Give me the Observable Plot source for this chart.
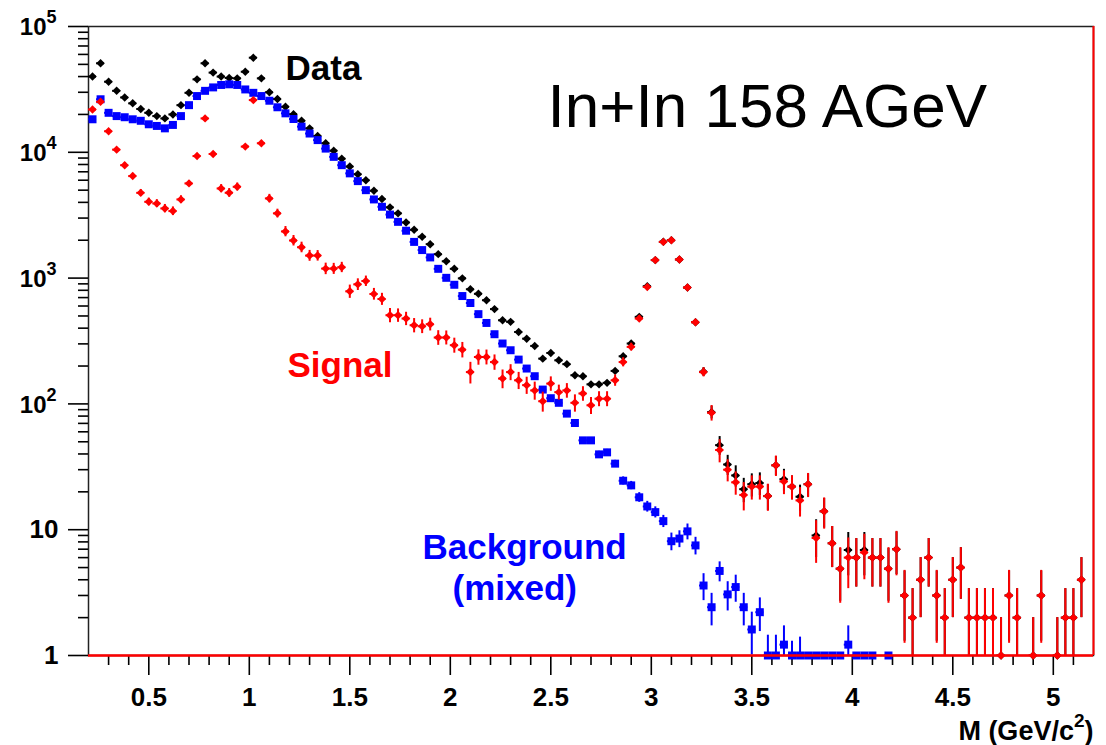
<!DOCTYPE html>
<html>
<head>
<meta charset="utf-8">
<script src="https://cdn.jsdelivr.net/npm/d3@7"></script>
<script src="https://cdn.jsdelivr.net/npm/@observablehq/plot@0.6"></script>
<style>
  body { margin: 0; background: #fff; }
  svg { display: block; }
  g[aria-label$="tick label"] text { font-weight: bold; }
</style>
</head>
<body>
<script>
// Bin centres (GeV/c^2)
const mass = [
  0.22, 0.26, 0.30, 0.34, 0.38, 0.42, 0.46, 0.50, 0.54, 0.58,
  0.62, 0.66, 0.70, 0.74, 0.78, 0.82, 0.86, 0.90, 0.94, 0.98,
  1.02, 1.06, 1.10, 1.14, 1.18, 1.22, 1.26, 1.30, 1.34, 1.38,
  1.42, 1.46, 1.50, 1.54, 1.58, 1.62, 1.66, 1.70, 1.74, 1.78,
  1.82, 1.86, 1.90, 1.94, 1.98, 2.02, 2.06, 2.10, 2.14, 2.18,
  2.22, 2.26, 2.30, 2.34, 2.38, 2.42, 2.46, 2.50, 2.54, 2.58,
  2.62, 2.66, 2.70, 2.74, 2.78, 2.82, 2.86, 2.90, 2.94, 2.98,
  3.02, 3.06, 3.10, 3.14, 3.18, 3.22, 3.26, 3.30, 3.34, 3.38,
  3.42, 3.46, 3.50, 3.54, 3.58, 3.62, 3.66, 3.70, 3.74, 3.78,
  3.82, 3.86, 3.90, 3.94, 3.98, 4.02, 4.06, 4.10, 4.14, 4.18,
  4.22, 4.26, 4.30, 4.34, 4.38, 4.42, 4.46, 4.50, 4.54, 4.58,
  4.62, 4.66, 4.70, 4.74, 4.78, 4.82, 4.86, 4.90, 4.94, 4.98,
  5.02, 5.06, 5.10, 5.14, 5.18
];

// Data (black)
const dataCounts = [
  40000, 51000, 36400, 30800, 27300, 24500, 22100, 20600, 19400, 18600,
  20000, 23700, 29700, 38000, 51000, 43000, 40000, 39000, 38700, 43700,
  56500, 38700, 30000, 26500, 23000, 20100, 17800, 15500, 13500, 11800,
  10300, 8900, 7700, 6700, 6000, 4950, 4250, 3650, 3270, 2770,
  2420, 2130, 1860, 1550, 1360, 1185, 995, 815, 750, 667,
  567, 462, 449, 373, 330, 289, 229, 254, 222, 207,
  169, 166, 143, 143, 147, 183, 239, 302, 492, 862,
  1390, 1942, 2003, 1406, 841, 446, 180, 86, 47, 33,
  27, 21, 23, 23.5, 18.5, 32.5, 25.2, 22, 18.3, 23,
  9, 14, 7.8, 4.9, 6.9, 6, 6.9, 6, 6, 4.9,
  7, 3, 2, 4, 6, 3, 2, 4, 5, 2,
  2, 2, 2, 1, 3, 2, null, 1, 3, null,
  1, 2, 2, 4, null
];
const dataErr = [
  null, null, null, null, null, null, null, null, null, null,
  null, null, null, null, null, null, null, null, null, null,
  null, null, null, null, null, null, null, null, null, null,
  null, null, null, null, null, null, null, null, null, null,
  null, null, null, null, null, null, null, null, null, null,
  null, null, null, null, null, null, null, null, null, null,
  null, null, null, null, null, null, null, null, null, null,
  38, 45, 45, 38, 30, 22, 14, 10, 8, 6,
  5.2, 4.6, 4.8, 4.8, 4.3, 5.7, 5, 4.7, 4.3, 4.8,
  3, 3.7, 2.8, 2.2, 2.6, 2.5, 2.6, 2.5, 2.5, 2.2,
  2.6, 1.7, 1.4, 2, 2.5, 1.7, 1.4, 2, 2.2, 1.4,
  1.4, 1.4, 1.4, 1, 1.7, 1.4, null, 1, 1.7, null,
  1, 1.4, 1.4, 2, null
];

// Signal (red)
const signal = [
  21900, 25200, 14700, 10500, 7900, 6470, 4760, 4040, 3920, 3580,
  3410, 4220, 5660, 9330, 18600, 9700, 5160, 4770, 5320, 11100,
  26000, 11800, 4300, 3270, 2350, 1990, 1760, 1510, 1510, 1190,
  1190, 1220, 785, 892, 948, 748, 682, 507, 507, 477,
  422, 414, 430, 337, 337, 293, 270, 179, 236, 236,
  215, 159, 179, 154, 141, 128, 105, 145, 124, 128,
  102, 121, 97.5, 110, 110, 154, 215, 284, 477, 851,
  1390, 1940, 2000, 1406, 841, 446, 179, 85, 43, 30,
  23.8, 18.9, 22, 22, 18.5, 32.5, 24.2, 22, 17.1, 23,
  8.6, 14, 7.8, 4.9, 6, 6, 6.6, 6, 6, 4.9,
  7, 3, 2, 4, 6, 3, 2, 4, 5, 2,
  2, 2, 2, 1, 3, 2, null, 1, 3, null,
  1, 2, 2, 4, null
];
const signalErr = [
  600, 700, 500, 400, 350, 330, 300, 280, 280, 270,
  270, 290, 320, 380, 480, 420, 380, 380, 380, 420,
  500, 420, 330, 260, 220, 190, 170, 150, 145, 125,
  120, 115, 95, 95, 90, 80, 75, 65, 62, 58,
  55, 52, 50, 45, 43, 40, 38, 35, 33, 32,
  30, 27, 26, 24, 22, 21, 19, 19, 17, 17,
  16, 16, 15, 15, 15, 16, 18, 20, 24, 32,
  38, 45, 45, 38, 30, 22, 15, 12, 9, 6,
  5, 4.8, 4.8, 4.8, 4.5, 6, 5.2, 4.8, 4.5, 5,
  3.2, 3.9, 2.8, 2.3, 2.6, 2.5, 2.6, 2.5, 2.5, 2.3,
  2.7, 1.75, 1.4, 2, 2.5, 1.75, 1.4, 2, 2.2, 1.4,
  1.4, 1.4, 1.4, 1, 1.75, 1.4, null, 1, 1.75, null,
  1, 1.4, 1.4, 2, null
];

// Background, mixed events (blue)
const background = [
  18300, 26400, 20600, 19400, 19000, 18300, 17800, 16700, 16200, 15500,
  16500, 19400, 23700, 28000, 30800, 32800, 34300, 34700, 34300, 31600,
  29700, 28000, 25700, 22800, 20400, 18400, 16000, 14100, 12500, 10700,
  9200, 7900, 6800, 5900, 5000, 4220, 3690, 3200, 2800, 2380,
  1940, 1670, 1460, 1185, 1005, 885, 720, 634, 517, 440,
  358, 302, 267, 225, 191, 166, 130, 111, 102, 83.7,
  70.5, 51.3, 51.3, 39.7, 41.2, 33.5, 24.5, 22.5, 18.1, 15.3,
  13.8, 11.7, 8.1, 8.5, 9.7, 7.5, 3.6, 2.42, 4.7, 3.06,
  3.5, 2.42, 1.61, 2.21, 1, 1, 1.22, 1, 1, 1,
  1, 1, 1, 1, 1.22, 1, 1, 1, null, 1,
  null, null, null, null, null, null, null, null, null, null,
  null, null, null, null, null, null, null, null, null, null,
  null, null, null, null, null
];
const backgroundErr = [
  null, null, null, null, null, null, null, null, null, null,
  null, null, null, null, null, null, null, null, null, null,
  null, null, null, null, null, null, null, null, null, null,
  null, null, null, null, null, null, null, null, null, null,
  null, null, null, null, null, null, null, null, null, null,
  null, null, null, null, null, null, 4, 3.5, 3.3, 3,
  2.8, 2.5, 2.5, 2.3, 2.3, 2.1, 1.8, 1.7, 1.6, 1.5,
  1.4, 1.3, 1.3, 1.3, 1.4, 1.2, 0.87, 0.7, 0.85, 0.8,
  0.85, 0.7, 0.6, 0.66, 0.45, 0.45, 0.5, 0.3, 0.4, null,
  null, null, null, null, 0.5, null, null, null, null, null,
  null, null, null, null, null, null, null, null, null, null,
  null, null, null, null, null, null, null, null, null, null,
  null, null, null, null, null
];

// Axes
const xDomain = [0.2, 5.2];
const yDomain = [1, 1e5];
const xMajorTicks = [0.5, 1, 1.5, 2, 2.5, 3, 3.5, 4, 4.5, 5];
const xMajorLabels = ["0.5", "1", "1.5", "2", "2.5", "3", "3.5", "4", "4.5", "5"];
const xMinorTicks = [0.3, 0.4, 0.6, 0.7, 0.8, 0.9, 1.1, 1.2, 1.3, 1.4, 1.6, 1.7, 1.8, 1.9,
  2.1, 2.2, 2.3, 2.4, 2.6, 2.7, 2.8, 2.9, 3.1, 3.2, 3.3, 3.4, 3.6, 3.7, 3.8, 3.9,
  4.1, 4.2, 4.3, 4.4, 4.6, 4.7, 4.8, 4.9, 5.1];
const yMajorTicks = [1, 10, 100, 1000, 10000, 100000];
const yPlainTicks = [1, 10];
const yPlainLabels = ["1", "10"];
const yPowerTicks = [100, 1000, 10000, 100000];
const yPowerExponents = ["2", "3", "4", "5"];
const yMinorTicks = [2, 3, 4, 5, 6, 7, 8, 9, 20, 30, 40, 50, 60, 70, 80, 90,
  200, 300, 400, 500, 600, 700, 800, 900, 2000, 3000, 4000, 5000, 6000, 7000, 8000, 9000,
  20000, 30000, 40000, 50000, 60000, 70000, 80000, 90000];
const halfBin = 0.02;

function rows(values, errors) {
  return mass.map((m, i) => ({m, v: values[i], e: errors[i]})).filter(d => d.v != null);
}
const dataRows = rows(dataCounts, dataErr);
const sigRows = rows(signal, signalErr);
const bkgRows = rows(background, backgroundErr);

function seriesMarks(rs, color, symbol, r) {
  const withErr = rs.filter(d => d.e != null && d.e > 0);
  return [
    Plot.ruleX(withErr, {x: "m", y1: d => Math.max(d.v - d.e, 0.3), y2: d => d.v + d.e, stroke: color, strokeWidth: 2, clip: true}),
    Plot.ruleY(rs, {y: "v", x1: d => d.m - halfBin, x2: d => d.m + halfBin, stroke: color, strokeWidth: 2, clip: true}),
    Plot.dot(rs, {x: "m", y: "v", symbol, r, fill: color, stroke: "none"})
  ];
}

const FONT = "Liberation Sans, Arial, Helvetica, sans-serif";

const chart = Plot.plot({
  width: 1106,
  height: 745,
  marginLeft: 88,
  marginRight: 13,
  marginTop: 26,
  marginBottom: 90,
  x: {domain: xDomain, axis: null},
  y: {type: "log", domain: yDomain, axis: null},
  style: {fontFamily: FONT, background: "white", color: "black", overflow: "visible"},
  marks: [
    Plot.frame({stroke: "#222", strokeWidth: 1.5}),
    Plot.axisX({ticks: xMajorTicks, tickSize: 20, tickPadding: 12, strokeWidth: 1.6,
      tickFormat: (d, i) => xMajorLabels[i], fontSize: 26, fontWeight: "bold", label: null}),
    Plot.axisX({ticks: xMinorTicks, tickSize: 10, strokeWidth: 1.6, tickFormat: () => "", label: null}),
    Plot.axisY({ticks: yMajorTicks, tickSize: 20, strokeWidth: 1.6, tickFormat: () => "", label: null}),
    Plot.axisY({ticks: yMinorTicks, tickSize: 10, strokeWidth: 1.6, tickFormat: () => "", label: null}),
    Plot.text(yPlainTicks, {y: d => d, text: (d, i) => yPlainLabels[i], frameAnchor: "left", textAnchor: "end",
      dx: -30, fontSize: 26, fontWeight: "bold", fill: "black"}),
    Plot.text(yPowerTicks, {y: d => d, text: () => "10", frameAnchor: "left", textAnchor: "end",
      dx: -42, dy: 1, fontSize: 24, fontWeight: "bold", fill: "black"}),
    Plot.text(yPowerTicks, {y: d => d, text: (d, i) => yPowerExponents[i], frameAnchor: "left", textAnchor: "start",
      dx: -42, dy: -9, fontSize: 18, fontWeight: "bold", fill: "black"}),
    ...seriesMarks(dataRows, "black", "diamond2", 3.8),
    ...seriesMarks(bkgRows, "#0000ff", "square", 4.5),
    ...seriesMarks(sigRows, "#ff0000", "diamond2", 3.8),
    Plot.ruleY([yDomain[0]], {stroke: "#ff0000", strokeWidth: 2.5}),
    Plot.ruleX([xDomain[1]], {stroke: "#ff0000", strokeWidth: 2}),
    Plot.text(["Data"], {x: 1.18, y: 37500, text: d => d, textAnchor: "start", lineAnchor: "bottom",
      fontSize: 35, fontWeight: "bold", fill: "black"}),
    Plot.text(["In+In 158 AGeV"], {x: 2.484, y: 15850, text: d => d, textAnchor: "start", lineAnchor: "bottom",
      fontSize: 62, fill: "black"}),
    Plot.text(["Signal"], {x: 1.19, y: 163, text: d => d, textAnchor: "start", lineAnchor: "bottom",
      fontSize: 35, fontWeight: "bold", fill: "#ff0000"}),
    Plot.text(["Background"], {x: 1.862, y: 5.9, text: d => d, textAnchor: "start", lineAnchor: "bottom",
      fontSize: 35, fontWeight: "bold", fill: "#0000ff"}),
    Plot.text(["(mixed)"], {x: 2.011, y: 2.74, text: d => d, textAnchor: "start", lineAnchor: "bottom",
      fontSize: 35, fontWeight: "bold", fill: "#0000ff"}),
    Plot.text(["M (GeV/c2)"], {frameAnchor: "bottom-right", text: d => d, textAnchor: "end", lineAnchor: "bottom",
      dy: 84, fontSize: 27, fontWeight: "bold", fill: "black"})
  ]
});

// Render the exponent of the axis title as a real superscript
chart.querySelectorAll("text").forEach(t => {
  if (t.textContent === "M (GeV/c2)") {
    t.textContent = "";
    const ns = "http://www.w3.org/2000/svg";
    const a = document.createElementNS(ns, "tspan");
    a.textContent = "M (GeV/c";
    const b = document.createElementNS(ns, "tspan");
    b.textContent = "2";
    b.setAttribute("dy", "-13");
    b.setAttribute("font-size", "19");
    const c = document.createElementNS(ns, "tspan");
    c.textContent = ")";
    c.setAttribute("dy", "13");
    t.append(a, b, c);
  }
});
document.body.appendChild(chart);
</script>
</body>
</html>
